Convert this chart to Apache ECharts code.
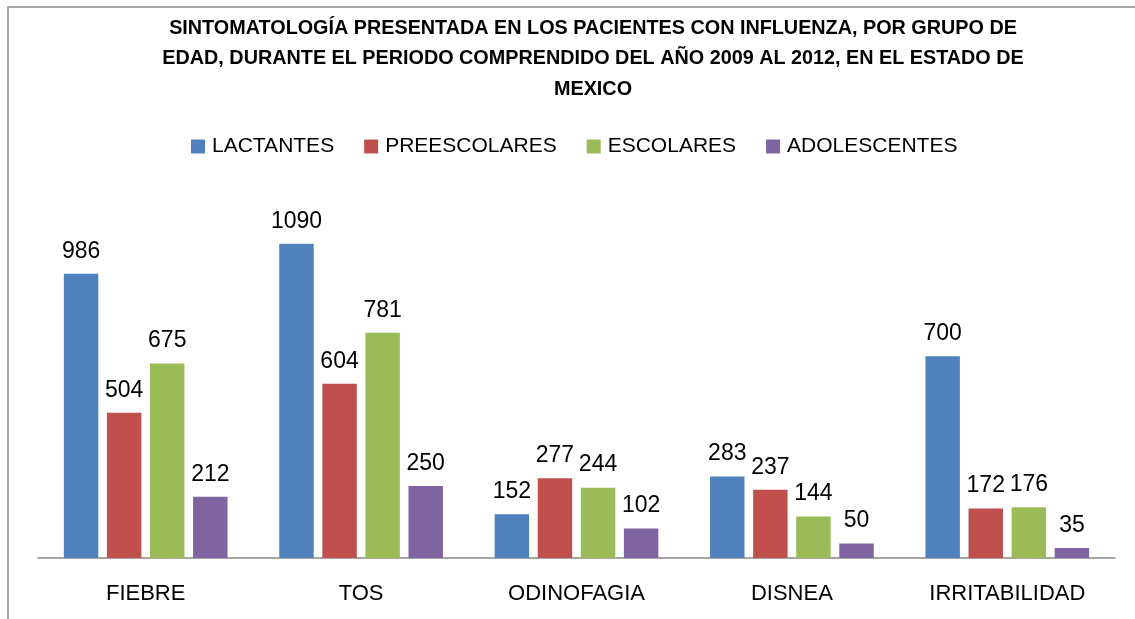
<!DOCTYPE html>
<html>
<head>
<meta charset="utf-8">
<script src="https://cdn.jsdelivr.net/npm/echarts@6/dist/echarts.min.js"></script>
<style>
  html, body { margin: 0; padding: 0; background: #fff; }
  #chart { width: 1135px; height: 619px; }
</style>
</head>
<body>
<div id="chart"></div>
<script>
  var categories = ['FIEBRE', 'TOS', 'ODINOFAGIA', 'DISNEA', 'IRRITABILIDAD'];
  var lactantes = [986, 1090, 152, 283, 700];
  var preescolares = [504, 604, 277, 237, 172];
  var escolares = [675, 781, 244, 144, 176];
  var adolescentes = [212, 250, 102, 50, 35];

  var seriesNames = ['LACTANTES', 'PREESCOLARES', 'ESCOLARES', 'ADOLESCENTES'];
  var seriesData = [lactantes, preescolares, escolares, adolescentes];
  var colors = ['#4F81BD', '#C0504D', '#9BBB59', '#8064A2'];

  var chart = echarts.init(document.getElementById('chart'));
  chart.setOption({
    animation: false,
    textStyle: { fontFamily: 'Liberation Sans' },
    graphic: [{
      type: 'rect',
      shape: { x: 8, y: 7, width: 1200, height: 700 },
      style: { fill: 'none', stroke: '#888', lineWidth: 1.5 }
    }],
    title: {
      text: 'SINTOMATOLOGÍA PRESENTADA EN LOS PACIENTES CON INFLUENZA, POR GRUPO DE\nEDAD, DURANTE EL PERIODO COMPRENDIDO DEL AÑO 2009 AL 2012, EN EL ESTADO DE\nMEXICO',
      left: 588,
      top: 8,
      textAlign: 'center',
      textStyle: { fontSize: 19.8, fontWeight: 'bold', color: '#000', lineHeight: 30.5 }
    },
    legend: {
      data: seriesNames,
      top: 131,
      left: 186,
      itemWidth: 14,
      itemHeight: 14,
      itemGap: 30,
      icon: 'rect',
      textStyle: { fontSize: 21, color: '#000', padding: [0, 0, 0, 2] }
    },
    grid: { left: 38, right: 20, top: 212, bottom: 61 },
    xAxis: {
      type: 'category',
      data: categories,
      axisLine: { lineStyle: { color: '#888', width: 1.5 } },
      axisTick: { show: false },
      axisLabel: { fontSize: 22, color: '#000', margin: 25 }
    },
    yAxis: {
      type: 'value',
      min: 0,
      max: 1200,
      show: false,
      splitLine: { show: false }
    },
    series: seriesNames.map(function (name, i) {
      return {
        name: name,
        type: 'bar',
        data: seriesData[i],
        barGap: '25%',
        barCategoryGap: '24%',
        itemStyle: { color: colors[i] },
        label: { show: true, position: 'top', distance: 11, fontSize: 23, color: '#000' }
      };
    })
  });
</script>
</body>
</html>
